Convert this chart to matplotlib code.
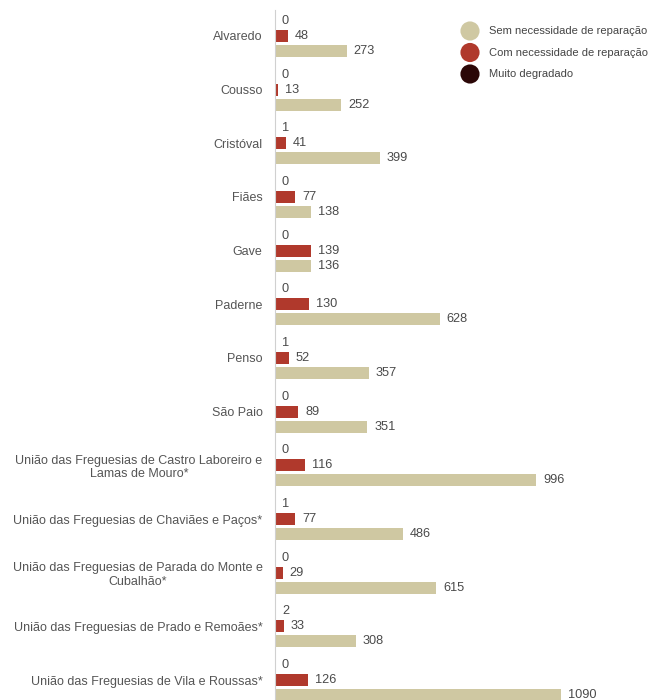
import matplotlib
matplotlib.use("Agg")
import matplotlib.pyplot as plt

plt.rcParams['font.family'] = ['Liberation Sans', 'DejaVu Sans']

categories = [
    "Alvaredo", "Cousso", "Cristóval", "Fiães", "Gave", "Paderne", "Penso", "São Paio",
    "União das Freguesias de Castro Laboreiro e\nLamas de Mouro*",
    "União das Freguesias de Chaviães e Paços*",
    "União das Freguesias de Parada do Monte e\nCubalhão*",
    "União das Freguesias de Prado e Remoães*",
    "União das Freguesias de Vila e Roussas*",
]
muito_degradado = [0, 0, 1, 0, 0, 0, 1, 0, 0, 1, 0, 2, 0]
com_reparacao = [48, 13, 41, 77, 139, 130, 52, 89, 116, 77, 29, 33, 126]
sem_reparacao = [273, 252, 399, 138, 136, 628, 357, 351, 996, 486, 615, 308, 1090]

c_muito = "#2b0707"
c_com = "#b0392c"
c_sem = "#cfc8a2"

series = [
    ("Muito degradado", muito_degradado, c_muito, -0.28),
    ("Com necessidade de reparação", com_reparacao, c_com, 0.0),
    ("Sem necessidade de reparação", sem_reparacao, c_sem, 0.28),
]

W, H = 654, 700
fig = plt.figure(figsize=(W / 100, H / 100), dpi=100)
ax_left = 275 / W
ax_top = 10 / H
ax = fig.add_axes([ax_left, 0, 1 - ax_left, 1 - ax_top])

px_per_group = 53.67
ax.set_ylim(12 + (700 - 680) / px_per_group, -(36 - 10) / px_per_group)
ax.set_xlim(0, (W - 275) / 0.2625)

ys = list(range(len(categories)))
for name, vals, color, off in series:
    pos = [y + off for y in ys]
    ax.barh(pos, vals, height=0.224, color=color, label=name)
    for p, v in zip(pos, vals):
        ax.annotate(str(v), (v, p), xytext=(5, 0), textcoords="offset points",
                    va="center", ha="left", fontsize=9.2, color="#4a4a4a")

ax.set_yticks(ys)
ax.set_yticklabels(categories, fontsize=9, color="#555555", linespacing=1.15,
                   multialignment="center")
ax.tick_params(axis="y", length=0, pad=9)
ax.set_xticks([])
for s in ["top", "right", "bottom"]:
    ax.spines[s].set_visible(False)
ax.spines["left"].set_color("#d0d0d0")
ax.spines["left"].set_linewidth(0.8)

# legend drawn in a pixel-coordinate overlay
leg = fig.add_axes([0, 0, 1, 1], facecolor="none")
leg.set_xlim(0, W)
leg.set_ylim(H, 0)
leg.axis("off")
legend_labels = ["Sem necessidade de reparação", "Com necessidade de reparação", "Muito degradado"]
legend_colors = [c_sem, c_com, c_muito]
for i, (lab, col) in enumerate(zip(legend_labels, legend_colors)):
    yy = 31 + i * 21.5
    leg.scatter([470], [yy], s=190, color=col, edgecolors="none")
    leg.text(489, yy, lab, fontsize=8, color="#444444", va="center", ha="left")

fig.savefig("out.png", dpi=100)
